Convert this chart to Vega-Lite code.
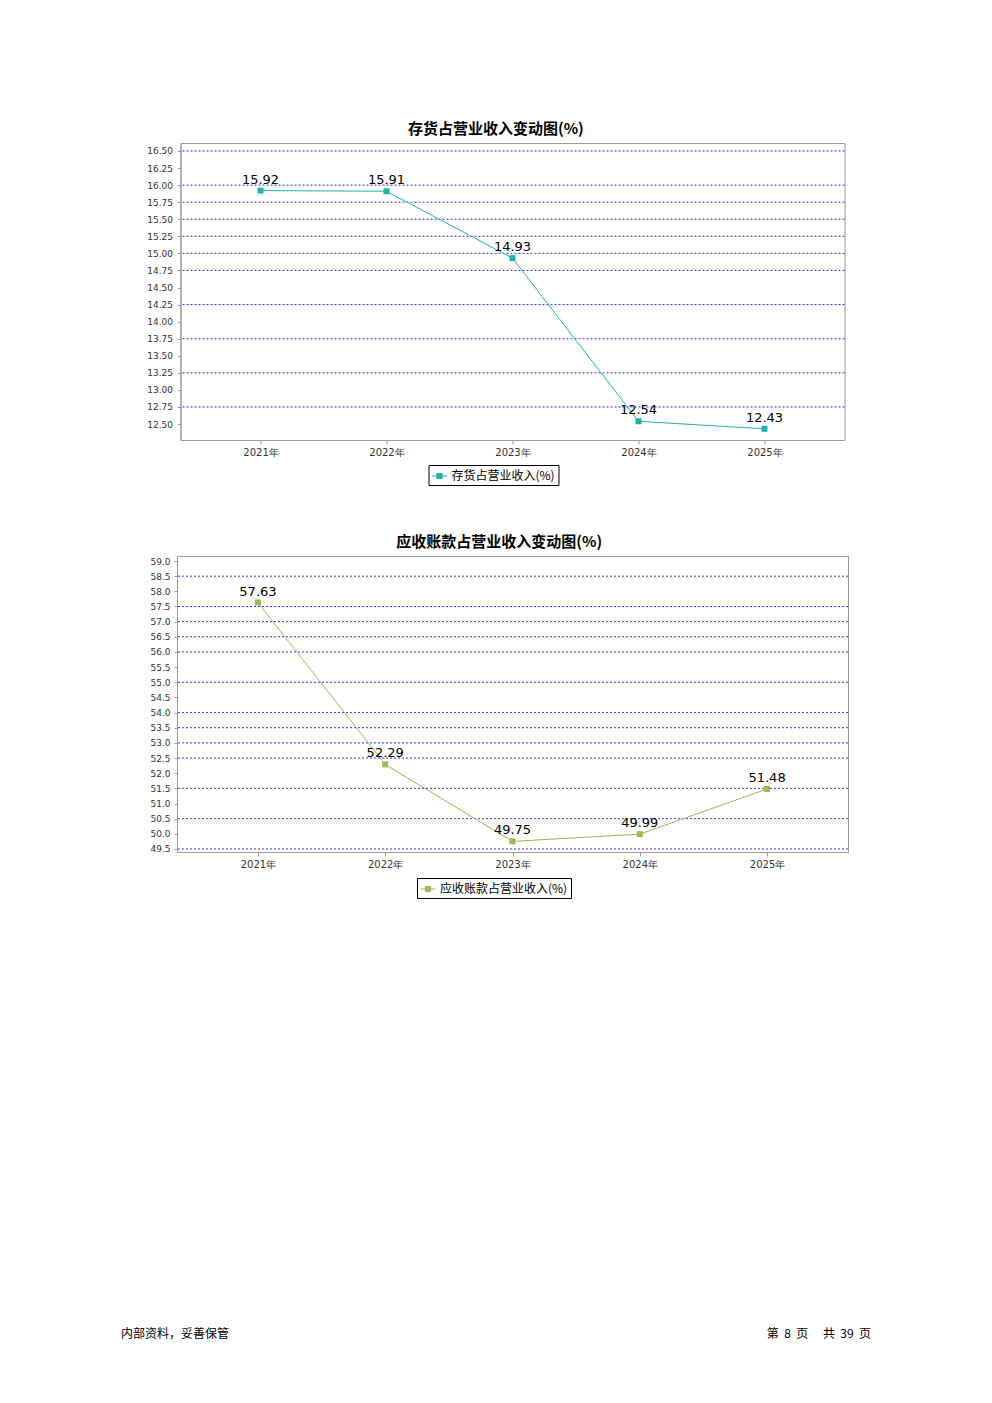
{
  "$schema": "https://vega.github.io/schema/vega-lite/v6.json",
  "background": "white",
  "padding": {"left": 121, "top": 121, "right": 5, "bottom": 5},
  "config": {
    "view": {"stroke": "#999999", "strokeWidth": 1},
    "font": "Noto Sans CJK SC",
    "axis": {"grid": false, "domainColor": "#999999", "tickColor": "#999999", "labelColor": "#333333", "labelFont": "DejaVu Sans", "labelFontSize": 9, "tickSize": 3, "title": null, "labelOverlap": false},
    "title": {"font": "Noto Sans CJK SC", "fontSize": 15, "fontWeight": "bold", "color": "#000000", "offset": 6, "anchor": "middle", "frame": "bounds"},
    "legend": {"orient": "none", "title": null, "strokeColor": "#000000", "fillColor": "white", "padding": 3, "cornerRadius": 0, "labelFont": "Noto Sans CJK SC", "labelFontSize": 12, "labelColor": "#000000", "symbolType": "M-1,0H-0.35M0.35,0H1M-0.35,-0.35H0.35V0.35H-0.35Z", "symbolSize": 225, "symbolStrokeWidth": 1, "direction": "horizontal", "labelOffset": 4}
  },
  "spacing": 428,
  "resolve": {"scale": {"color": "independent"}, "legend": {"color": "independent"}},
  "vconcat": [
    {
      "spacing": 48,
      "center": true,
      "resolve": {"scale": {"color": "independent"}, "legend": {"color": "independent"}},
      "vconcat": [
        {
          "width": 664,
          "height": 297,
          "title": "存货占营业收入变动图(%)",
          "data": {"values": [
            {"year": "2021年", "v": 15.92, "series": "存货占营业收入(%)"},
            {"year": "2022年", "v": 15.91, "series": "存货占营业收入(%)"},
            {"year": "2023年", "v": 14.93, "series": "存货占营业收入(%)"},
            {"year": "2024年", "v": 12.54, "series": "存货占营业收入(%)"},
            {"year": "2025年", "v": 12.43, "series": "存货占营业收入(%)"}
          ]},
          "layer": [
            {
              "data": {"values": [{"g": 16.5}, {"g": 16.0}, {"g": 15.75}, {"g": 15.5}, {"g": 15.25}, {"g": 15.0}, {"g": 14.75}, {"g": 14.25}, {"g": 13.75}, {"g": 13.25}, {"g": 12.75}]},
              "mark": {"type": "rule", "color": "#3333ff", "strokeDash": [2, 2], "strokeWidth": 1},
              "encoding": {"y": {"field": "g", "type": "quantitative", "axis": {"values": [12.5, 12.75, 13.0, 13.25, 13.5, 13.75, 14.0, 14.25, 14.5, 14.75, 15.0, 15.25, 15.5, 15.75, 16.0, 16.25, 16.5], "format": ".2f", "labelOverlap": false, "tickCount": 40, "labelPadding": 5}}}
            },
            {
              "mark": {"type": "line", "strokeWidth": 1},
              "encoding": {
                "x": {"field": "year", "type": "ordinal", "scale": {"type": "point", "padding": 0.635}, "axis": {"labelAngle": 0, "tickSize": 4, "labelPadding": 3, "labelFontSize": 10}},
                "y": {"field": "v", "type": "quantitative", "scale": {"domain": [12.266, 16.617], "nice": false, "zero": false}, "axis": {"values": [12.5, 12.75, 13.0, 13.25, 13.5, 13.75, 14.0, 14.25, 14.5, 14.75, 15.0, 15.25, 15.5, 15.75, 16.0, 16.25, 16.5], "format": ".2f", "labelOverlap": false, "tickCount": 40, "labelPadding": 5}},
                "color": {"field": "series", "type": "nominal", "scale": {"range": ["#24B0A9"]}, "legend": {"legendX": 248, "legendY": 322}}
              }
            },
            {
              "mark": {"type": "point", "shape": "square", "size": 36, "filled": true, "opacity": 1},
              "encoding": {
                "x": {"field": "year", "type": "ordinal"},
                "y": {"field": "v", "type": "quantitative"},
                "color": {"field": "series", "type": "nominal"}
              }
            },
            {
              "mark": {"type": "text", "dy": -11, "fontSize": 13, "font": "DejaVu Sans", "color": "#000000"},
              "encoding": {
                "x": {"field": "year", "type": "ordinal"},
                "y": {"field": "v", "type": "quantitative"},
                "text": {"field": "v", "type": "quantitative", "format": ".2f"}
              }
            }
          ]
        },
        {
          "width": 671,
          "height": 296,
          "title": "应收账款占营业收入变动图(%)",
          "data": {"values": [
            {"year": "2021年", "v": 57.63, "series": "应收账款占营业收入(%)"},
            {"year": "2022年", "v": 52.29, "series": "应收账款占营业收入(%)"},
            {"year": "2023年", "v": 49.75, "series": "应收账款占营业收入(%)"},
            {"year": "2024年", "v": 49.99, "series": "应收账款占营业收入(%)"},
            {"year": "2025年", "v": 51.48, "series": "应收账款占营业收入(%)"}
          ]},
          "layer": [
            {
              "data": {"values": [{"g": 58.5}, {"g": 57.5}, {"g": 57.0}, {"g": 56.5}, {"g": 56.0}, {"g": 55.0}, {"g": 54.0}, {"g": 53.5}, {"g": 53.0}, {"g": 52.5}, {"g": 51.5}, {"g": 50.5}, {"g": 49.5}]},
              "mark": {"type": "rule", "color": "#3333ff", "strokeDash": [2, 2], "strokeWidth": 1},
              "encoding": {"y": {"field": "g", "type": "quantitative", "axis": {"values": [49.5, 50.0, 50.5, 51.0, 51.5, 52.0, 52.5, 53.0, 53.5, 54.0, 54.5, 55.0, 55.5, 56.0, 56.5, 57.0, 57.5, 58.0, 58.5, 59.0], "format": ".1f", "labelOverlap": false, "tickCount": 40, "labelPadding": 4}}}
            },
            {
              "mark": {"type": "line", "strokeWidth": 1},
              "encoding": {
                "x": {"field": "year", "type": "ordinal", "scale": {"type": "point", "padding": 0.636}, "axis": {"labelAngle": 0, "tickSize": 4, "labelPadding": 3, "labelFontSize": 10}},
                "y": {"field": "v", "type": "quantitative", "scale": {"domain": [49.4, 59.165], "nice": false, "zero": false}, "axis": {"values": [49.5, 50.0, 50.5, 51.0, 51.5, 52.0, 52.5, 53.0, 53.5, 54.0, 54.5, 55.0, 55.5, 56.0, 56.5, 57.0, 57.5, 58.0, 58.5, 59.0], "format": ".1f", "labelOverlap": false, "tickCount": 40, "labelPadding": 4}},
                "color": {"field": "series", "type": "nominal", "scale": {"range": ["#99BB55"]}, "legend": {"legendX": 240, "legendY": 322}}
              }
            },
            {
              "mark": {"type": "point", "shape": "square", "size": 36, "filled": true, "opacity": 1},
              "encoding": {
                "x": {"field": "year", "type": "ordinal"},
                "y": {"field": "v", "type": "quantitative"},
                "color": {"field": "series", "type": "nominal"}
              }
            },
            {
              "mark": {"type": "text", "dy": -11, "fontSize": 13, "font": "DejaVu Sans", "color": "#000000"},
              "encoding": {
                "x": {"field": "year", "type": "ordinal"},
                "y": {"field": "v", "type": "quantitative"},
                "text": {"field": "v", "type": "quantitative", "format": ".2f"}
              }
            }
          ]
        }
      ]
    },
    {
      "width": 750,
      "height": 14,
      "view": {"stroke": null},
      "data": {"values": [
        {"side": "left", "label": "内部资料，妥善保管"},
        {"side": "right", "label": "第\u00a0\u00a08\u00a0\u00a0页\u3000\u00a0共\u00a0\u00a039\u00a0\u00a0页"}
      ]},
      "layer": [
        {
          "transform": [{"filter": "datum.side === 'left'"}],
          "mark": {"type": "text", "align": "left", "dx": -56, "fontSize": 12, "font": "Noto Sans CJK SC", "color": "#000000"},
          "encoding": {
            "x": {"field": "side", "type": "nominal", "scale": {"type": "point", "domain": ["left", "right"], "padding": 0}, "axis": null},
            "text": {"field": "label"}
          }
        },
        {
          "transform": [{"filter": "datum.side === 'right'"}],
          "mark": {"type": "text", "align": "right", "dx": -56, "fontSize": 12, "font": "Noto Sans CJK SC", "color": "#000000"},
          "encoding": {
            "x": {"field": "side", "type": "nominal"},
            "text": {"field": "label"}
          }
        }
      ]
    }
  ]
}
